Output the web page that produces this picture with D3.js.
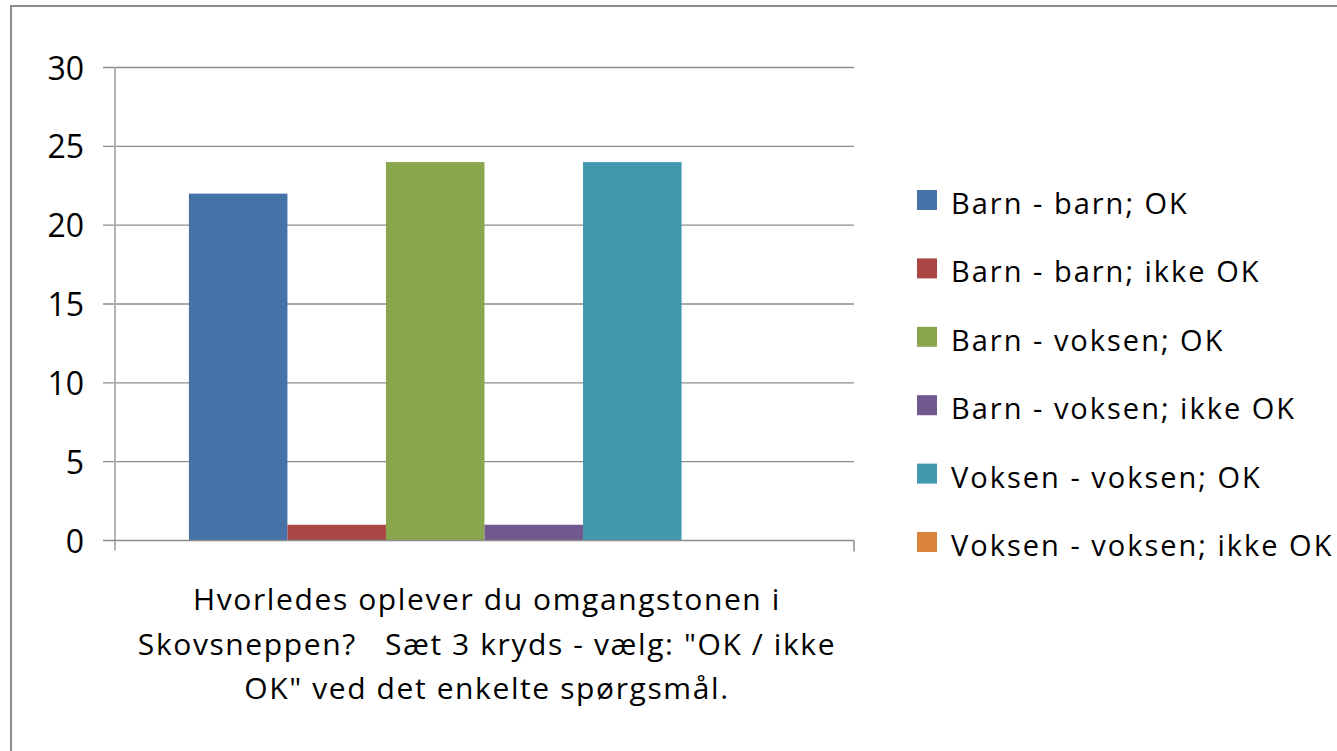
<!DOCTYPE html>
<html>
<head>
<meta charset="utf-8">
<script src="https://cdn.jsdelivr.net/npm/d3@7"></script>
<style>
  body { margin: 0; background: #fff; }
  svg { display: block; font-family: "Open Sans", sans-serif; }
</style>
</head>
<body>
<svg width="1337" height="751"></svg>
<script>
const seriesNames = [
  "Barn - barn; OK",
  "Barn - barn; ikke OK",
  "Barn - voksen; OK",
  "Barn - voksen; ikke OK",
  "Voksen - voksen; OK",
  "Voksen - voksen; ikke OK"
];
const seriesValues = [22, 1, 24, 1, 24, 0];
const seriesColors = ["#4572a7", "#aa4643", "#89a54e", "#71588f", "#4198af", "#db843d"];
const yTicks = [0, 5, 10, 15, 20, 25, 30];
const categoryTitle = [
  "Hvorledes oplever du omgangstonen i",
  "Skovsneppen?   Sæt 3 kryds - vælg: \"OK / ikke",
  "OK\" ved det enkelte spørgsmål."
];

const svg = d3.select("svg");

// outer frame (runs off right and bottom like the source)
svg.append("rect")
    .attr("x", 11).attr("y", 6)
    .attr("width", 1400).attr("height", 800)
    .attr("fill", "none")
    .attr("stroke", "#8c8c8c")
    .attr("stroke-width", 2);

const plot = { left: 115, right: 854, top: 67.5, bottom: 540.5 };

const y = d3.scaleLinear().domain([0, 30]).range([plot.bottom, plot.top]);

// one category band, six series inside with Excel-like 150% gap
const x = d3.scaleBand()
    .domain(seriesNames)
    .range([plot.left, plot.right])
    .paddingInner(0)
    .paddingOuter(0.75);

// gridlines
svg.append("g")
    .selectAll("line")
    .data(yTicks.filter(d => d > 0))
    .enter().append("line")
    .attr("x1", plot.left - 12).attr("x2", plot.right)
    .attr("y1", d => y(d)).attr("y2", d => y(d))
    .attr("stroke", "#8c8c8c")
    .attr("stroke-width", 1.3);

// bars
svg.append("g")
    .selectAll("rect")
    .data(seriesValues)
    .enter().append("rect")
    .attr("x", (d, i) => x(seriesNames[i]))
    .attr("width", x.bandwidth())
    .attr("y", d => y(d))
    .attr("height", d => y(0) - y(d))
    .attr("fill", (d, i) => seriesColors[i]);

// y axis line
svg.append("line")
    .attr("x1", plot.left).attr("x2", plot.left)
    .attr("y1", plot.top).attr("y2", plot.bottom + 10)
    .attr("stroke", "#b4b4b4")
    .attr("stroke-width", 2);

// x axis line + end ticks
svg.append("line")
    .attr("x1", plot.left - 12).attr("x2", plot.right)
    .attr("y1", y(0)).attr("y2", y(0))
    .attr("stroke", "#8c8c8c")
    .attr("stroke-width", 1.5);
svg.append("line")
    .attr("x1", plot.right).attr("x2", plot.right)
    .attr("y1", y(0)).attr("y2", y(0) + 11)
    .attr("stroke", "#8c8c8c")
    .attr("stroke-width", 1.5);

// y tick labels
svg.append("g")
    .selectAll("text")
    .data(yTicks)
    .enter().append("text")
    .attr("x", 84)
    .attr("y", d => y(d) + 12)
    .attr("text-anchor", "end")
    .attr("font-size", 32)
    .attr("fill", "#000")
    .text(d => d);

// category title
svg.append("g")
    .selectAll("text")
    .data(categoryTitle)
    .enter().append("text")
    .attr("x", 487)
    .attr("y", (d, i) => 610 + i * 44.5)
    .attr("text-anchor", "middle")
    .attr("font-size", 30)
    .attr("letter-spacing", 1.6)
    .attr("fill", "#000")
    .style("white-space", "pre")
    .text(d => d);

// legend
const legend = svg.append("g")
    .selectAll("g")
    .data(seriesNames)
    .enter().append("g")
    .attr("transform", (d, i) => `translate(917,${190 + i * 68.4})`);

legend.append("rect")
    .attr("width", 20).attr("height", 20)
    .attr("fill", (d, i) => seriesColors[i]);

legend.append("text")
    .attr("x", 34)
    .attr("y", 24)
    .attr("font-size", 29)
    .attr("letter-spacing", 2)
    .attr("fill", "#000")
    .text(d => d);
</script>
</body>
</html>
